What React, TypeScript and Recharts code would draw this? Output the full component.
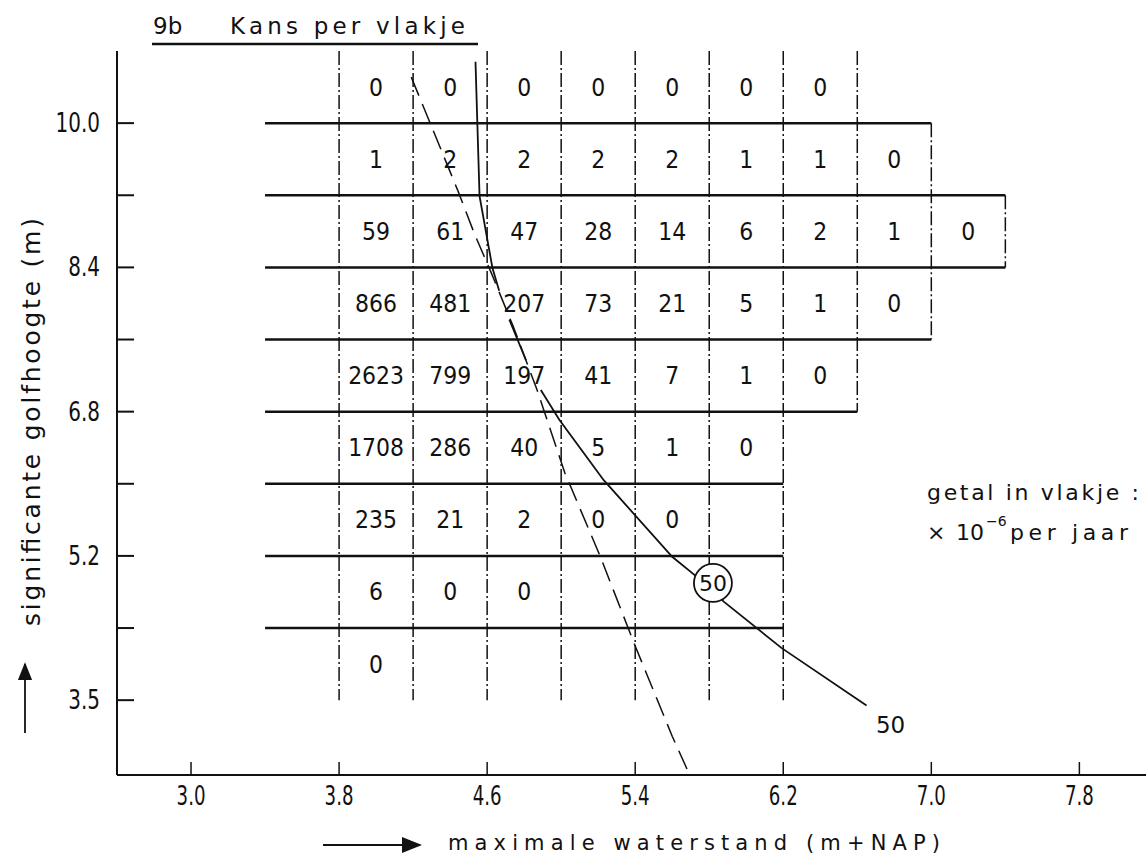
import React from "react";
import {
  ComposedChart,
  XAxis,
  YAxis,
  Line,
  Scatter,
  ReferenceLine,
  ReferenceDot,
} from "recharts";

// axis ticks
const X_TICKS = [3.0, 3.8, 4.6, 5.4, 6.2, 7.0, 7.8];
const Y_TICKS = [3.6, 4.4, 5.2, 6.0, 6.8, 7.6, 8.4, 9.2, 10.0];
const Y_TICK_LABELS = ["3.5", "", "5.2", "", "6.8", "", "8.4", "", "10.0"];

// grid of "vlakjes": column edges, row bottoms (top row first) and the right end of each row
const COL_EDGES = [3.8, 4.2, 4.6, 5.0, 5.4, 5.8, 6.2, 6.6, 7.0, 7.4];
const ROW_BOTTOMS = [10.0, 9.2, 8.4, 7.6, 6.8, 6.0, 5.2, 4.4, 3.6];
const ROW_ENDS = [6.6, 7.0, 7.4, 7.0, 6.6, 6.2, 6.2, 6.2, 6.2];
const ROW_HEIGHT = 0.8;
const LINE_START = 3.4;

// kans per vlakje (x 10^-6 per jaar), top row first
const ROW_100 = [0, 0, 0, 0, 0, 0, 0];
const ROW_92 = [1, 2, 2, 2, 2, 1, 1, 0];
const ROW_84 = [59, 61, 47, 28, 14, 6, 2, 1, 0];
const ROW_76 = [866, 481, 207, 73, 21, 5, 1, 0];
const ROW_68 = [2623, 799, 197, 41, 7, 1, 0];
const ROW_60 = [1708, 286, 40, 5, 1, 0];
const ROW_52 = [235, 21, 2, 0, 0];
const ROW_44 = [6, 0, 0];
const ROW_36 = [0];
const ROWS = [ROW_100, ROW_92, ROW_84, ROW_76, ROW_68, ROW_60, ROW_52, ROW_44, ROW_36];

// the "50" line (solid) and the dashed line
const CURVE_50 = [
  { x: 4.537, y: 10.68 },
  { x: 4.559, y: 9.19 },
  { x: 4.629, y: 8.39 },
  { x: 4.665, y: 8.14 },
  { x: 4.69, y: null },
  { x: 4.72, y: 7.82 },
  { x: 4.81, y: 7.37 },
  { x: 4.85, y: null },
  { x: 4.89, y: 7.04 },
  { x: 4.99, y: 6.71 },
  { x: 5.23, y: 6.04 },
  { x: 5.6, y: 5.19 },
  { x: 5.72, y: 4.99 },
  { x: 5.88, y: 4.69 },
  { x: 6.19, y: 4.18 },
  { x: 6.65, y: 3.54 },
];
const CURVE_DASHED = [
  { x: 4.19, y: 10.51 },
  { x: 4.44, y: 9.26 },
  { x: 4.53, y: 8.78 },
  { x: 4.62, y: 8.35 },
  { x: 4.74, y: 7.75 },
  { x: 4.87, y: 7.04 },
  { x: 5.02, y: 6.12 },
  { x: 5.21, y: 5.2 },
  { x: 5.4, y: 4.2 },
  { x: 5.6, y: 3.2 },
  { x: 5.69, y: 2.79 },
];

const INK = "#111";
const FONT = "'DejaVu Sans', sans-serif";

const cells = ROWS.flatMap((row, i) =>
  row.map((v, j) => ({
    x: COL_EDGES[j] + 0.2,
    y: ROW_BOTTOMS[i] + ROW_HEIGHT / 2,
    v,
  }))
);

const hLines = ROW_BOTTOMS.slice(0, -1).map((y, i) => ({
  y,
  x2: Math.max(ROW_ENDS[i], ROW_ENDS[i + 1]),
}));

const vLines = COL_EDGES.map((e) => {
  const rows = ROW_ENDS.map((end, i) => (end >= e - 1e-9 ? i : -1)).filter((i) => i >= 0);
  return { x: e, y1: ROW_BOTTOMS[rows[0]] + ROW_HEIGHT, y2: ROW_BOTTOMS[rows[rows.length - 1]] };
});

const CellText = (props: any) => {
  const { cx, cy, payload } = props;
  return (
    <text
      transform={`translate(${cx},${cy}) scale(0.88,1)`}
      textAnchor="middle"
      dominantBaseline="central"
      style={{ fontSize: 25, fontFamily: FONT }}
      fill={INK}
    >
      {payload.v}
    </text>
  );
};

const XTick = (props: any) => {
  const { x, y, payload } = props;
  return (
    <g>
      <line x1={x} x2={x} y1={y} y2={y - 13} stroke={INK} strokeWidth={1.5} />
      <text
        transform={`translate(${x},${y + 30}) scale(0.7,1)`}
        textAnchor="middle"
        style={{ fontSize: 26, fontFamily: FONT }}
        fill={INK}
      >
        {payload.value.toFixed(1)}
      </text>
    </g>
  );
};

const YTick = (props: any) => {
  const { x, y, index } = props;
  return (
    <g>
      <line x1={x} x2={x + 17} y1={y} y2={y} stroke={INK} strokeWidth={2} />
      <text
        transform={`translate(${x - 17},${y}) scale(0.74,1)`}
        textAnchor="end"
        dominantBaseline="central"
        style={{ fontSize: 27, fontFamily: FONT }}
        fill={INK}
      >
        {Y_TICK_LABELS[index]}
      </text>
    </g>
  );
};

export default function App() {
  return (
    <div style={{ position: "absolute", left: 0, top: 0, width: 1146, height: 856, background: "#fff" }}>
      <ComposedChart
        width={1146}
        height={856}
        margin={{ top: 51, right: 0, bottom: 80, left: 116 }}
      >
        <XAxis
          type="number"
          dataKey="x"
          domain={[2.6, 8.16]}
          ticks={X_TICKS}
          allowDataOverflow
          height={1}
          tickSize={0}
          tickMargin={0}
          tick={<XTick />}
          axisLine={{ stroke: INK, strokeWidth: 2 }}
        />
        <YAxis
          type="number"
          dataKey="y"
          domain={[2.77, 10.8]}
          ticks={Y_TICKS}
          allowDataOverflow
          width={1}
          tickSize={0}
          tickMargin={0}
          tick={<YTick />}
          axisLine={{ stroke: INK, strokeWidth: 2 }}
        />
        {hLines.map((l) => (
          <ReferenceLine
            key={`h${l.y}`}
            segment={[
              { x: LINE_START, y: l.y },
              { x: l.x2, y: l.y },
            ]}
            stroke={INK}
            strokeWidth={2.5}
          />
        ))}
        {vLines.map((l) => (
          <ReferenceLine
            key={`v${l.x}`}
            segment={[
              { x: l.x, y: l.y1 },
              { x: l.x, y: l.y2 },
            ]}
            stroke={INK}
            strokeWidth={1.5}
            strokeDasharray="14 3 2 3"
          />
        ))}
        <Line
          data={CURVE_DASHED}
          dataKey="y"
          type="linear"
          stroke={INK}
          strokeWidth={1.5}
          strokeDasharray="20 9"
          dot={false}
          isAnimationActive={false}
        />
        <Line
          data={CURVE_50}
          dataKey="y"
          type="linear"
          stroke={INK}
          strokeWidth={1.8}
          dot={false}
          connectNulls={false}
          isAnimationActive={false}
        />
        <Scatter data={cells} dataKey="y" shape={<CellText />} isAnimationActive={false} />
        <ReferenceDot
          x={5.82}
          y={4.9}
          r={19}
          fill="#fff"
          stroke={INK}
          strokeWidth={1.8}
          label={{ value: "50", position: "center", fill: INK, fontSize: 22, fontFamily: FONT }}
        />
        <ReferenceDot
          x={6.78}
          y={3.33}
          r={0}
          fill="none"
          stroke="none"
          label={{ value: "50", position: "center", fill: INK, fontSize: 23, fontFamily: FONT }}
        />
      </ComposedChart>
      <svg
        width={1146}
        height={856}
        style={{ position: "absolute", left: 0, top: 0, pointerEvents: "none" }}
        fontFamily={FONT}
        fill={INK}
      >
        <defs>
          <marker id="ah" markerWidth="10" markerHeight="8" refX="9" refY="4" orient="auto">
            <path d="M0,0 L10,4 L0,8 z" fill={INK} />
          </marker>
        </defs>
        {/* title */}
        <text x={153} y={34} fontSize={23}>9b</text>
        <text x={230} y={34} fontSize={23} textLength={235} lengthAdjust="spacing">
          Kans per vlakje
        </text>
        <line x1={152} x2={478} y1={44} y2={44} stroke={INK} strokeWidth={2.5} />
        {/* y-axis title */}
        <line x1={25} x2={25} y1={733} y2={664} stroke={INK} strokeWidth={1.8} markerEnd="url(#ah)" />
        <text
          transform="translate(40,422) rotate(-90)"
          textAnchor="middle"
          fontSize={25}
          textLength={408}
          lengthAdjust="spacing"
        >
          significante golfhoogte (m)
        </text>
        {/* x-axis title */}
        <line x1={323} x2={420} y1={845} y2={845} stroke={INK} strokeWidth={2} markerEnd="url(#ah)" />
        <text x={448} y={850} fontSize={21} textLength={492} lengthAdjust="spacing">
          maximale waterstand (m+NAP)
        </text>
        {/* legend note */}
        <text x={927} y={500} fontSize={22} textLength={212} lengthAdjust="spacing">
          getal in vlakje :
        </text>
        <text x={927} y={540} fontSize={22}>×</text>
        <text x={956} y={540} fontSize={22}>10</text>
        <text x={986} y={526} fontSize={14}>−6</text>
        <text x={1010} y={540} fontSize={22} textLength={118} lengthAdjust="spacing">
          per jaar
        </text>
      </svg>
    </div>
  );
}
